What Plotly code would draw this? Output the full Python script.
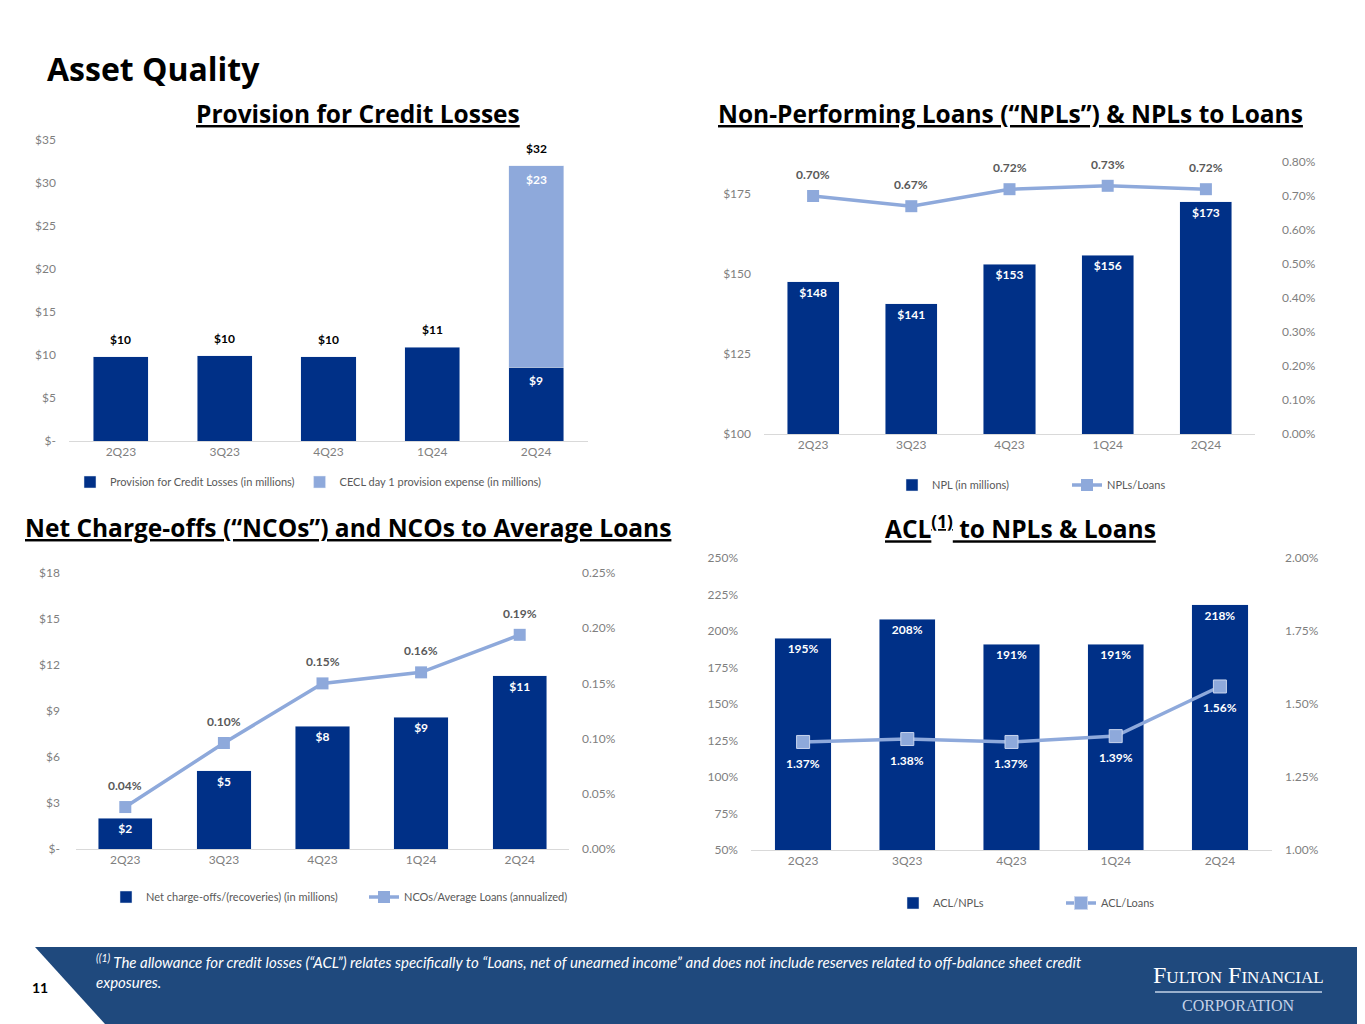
import plotly.graph_objects as go

# the page puts the figure 8px in from the top-left corner
OFF = 8
W, H = 1365 - OFF, 1024 - OFF

NAVY = "#003087"
LIGHT = "#8EA9DB"
FOOTER = "#1F497D"
GRID = "#D9D9D9"
TICK = "#7F7F7F"
LABEL = "#595959"
FONT = "Lato"
TITLE_FONT = "Open Sans"

QUARTERS = ["2Q23", "3Q23", "4Q23", "1Q24", "2Q24"]

# provision for credit losses, $M
provision = [9.8, 9.9, 9.8, 10.9, 8.6]
cecl_day1 = [None, None, None, None, 23.4]
prov_ticks = [0, 5, 10, 15, 20, 25, 30, 35]
prov_ticktext = ["$-", "$5", "$10", "$15", "$20", "$25", "$30", "$35"]

# non-performing loans, $M and NPLs / loans
npl = [147.6, 140.7, 153.1, 155.9, 172.6]
npl_to_loans = [0.0070, 0.0067, 0.0072, 0.0073, 0.0072]
npl_ticks = [100, 125, 150, 175]
npl_ticktext = ["$100", "$125", "$150", "$175"]

# net charge-offs, $M and NCOs / average loans
nco = [2.0, 5.1, 8.0, 8.6, 11.3]
nco_to_avg = [0.00038, 0.00096, 0.00150, 0.00160, 0.00194]
nco_ticks = [0, 3, 6, 9, 12, 15, 18]
nco_ticktext = ["$-", "$3", "$6", "$9", "$12", "$15", "$18"]

# ACL to NPLs and loans
acl_npl = [1.95, 2.08, 1.91, 1.91, 2.18]
acl_loans = [0.0137, 0.0138, 0.0137, 0.0139, 0.0156]


def fx(x):
    return (x - OFF) / W


def fy(y):
    return 1 - (y - OFF) / H


def px(x0, x1):
    return [fx(x0), fx(x1)]


def py(top, bottom):
    return [fy(bottom), fy(top)]


tickfont = dict(family=FONT, size=12, color=TICK)
barfont = dict(family=FONT, size=12, color="white", weight="bold")


def xax(domain, anchor):
    return dict(domain=domain, anchor=anchor, type="category", showline=True,
                linecolor=GRID, linewidth=1, ticks="", showgrid=False,
                tickfont=tickfont, fixedrange=True)


def yax(domain, anchor, rng, **kw):
    d = dict(domain=domain, anchor=anchor, range=rng, showgrid=False,
             zeroline=False, showline=False, ticks="", tickfont=tickfont,
             ticklabelstandoff=12, fixedrange=True)
    d.update(kw)
    return d


fig = go.Figure()

# ---- chart 1: provision
fig.add_trace(go.Bar(
    x=QUARTERS, y=provision, xaxis="x", yaxis="y", width=0.53,
    marker_color=NAVY, name="Provision for Credit Losses (in millions)",
    legend="legend", hoverinfo="skip"))
fig.add_trace(go.Bar(
    x=QUARTERS, y=cecl_day1, xaxis="x", yaxis="y", width=0.53,
    marker_color=LIGHT, name="CECL day 1 provision expense (in millions)",
    legend="legend", hoverinfo="skip"))
for q, p, c in zip(QUARTERS, provision, cecl_day1):
    tot = p + (c or 0)
    fig.add_annotation(x=q, y=tot, xref="x", yref="y", text=f"<b>${tot:.0f}</b>",
                       showarrow=False, yanchor="bottom", yshift=8,
                       font=dict(family=FONT, size=12, color="black"))
    if c:
        # split bar: label each piece inside, near its top
        fig.add_annotation(x=q, y=p, xref="x", yref="y", text=f"<b>${p:.0f}</b>",
                           showarrow=False, yanchor="top", yshift=-4,
                           font=dict(family=FONT, size=12, color="white"))
        fig.add_annotation(x=q, y=tot, xref="x", yref="y",
                           text=f"<b>${c:.0f}</b>", showarrow=False,
                           yanchor="top", yshift=-4,
                           font=dict(family=FONT, size=12, color="white"))

# ---- chart 2: NPLs
fig.add_trace(go.Bar(
    x=QUARTERS, y=npl, xaxis="x2", yaxis="y3", width=0.53, marker_color=NAVY,
    name="NPL (in millions)", text=[f"${v:.0f}" for v in npl],
    textposition="inside", insidetextanchor="end",
    textfont=barfont, legend="legend2", hoverinfo="skip"))
fig.add_trace(go.Scatter(
    x=QUARTERS, y=npl_to_loans, xaxis="x2", yaxis="y4", mode="lines+markers",
    line=dict(color=LIGHT, width=3.5),
    marker=dict(symbol="square", size=12, color=LIGHT),
    name="NPLs/Loans", legend="legend2", hoverinfo="skip"))
for q, v in zip(QUARTERS, npl_to_loans):
    fig.add_annotation(x=q, y=v, xref="x2", yref="y4", text=f"<b>{v:.2%}</b>",
                       showarrow=False, yanchor="bottom", yshift=12,
                       font=dict(family=FONT, size=12, color=LABEL))

# ---- chart 3: NCOs
fig.add_trace(go.Bar(
    x=QUARTERS, y=nco, xaxis="x3", yaxis="y5", width=0.55, marker_color=NAVY,
    name="Net charge-offs/(recoveries) (in millions)",
    text=[f"${v:.0f}" for v in nco], textposition="inside",
    insidetextanchor="end", textfont=barfont,
    legend="legend3", hoverinfo="skip"))
fig.add_trace(go.Scatter(
    x=QUARTERS, y=nco_to_avg, xaxis="x3", yaxis="y6", mode="lines+markers",
    line=dict(color=LIGHT, width=3.5),
    marker=dict(symbol="square", size=12, color=LIGHT),
    name="NCOs/Average Loans (annualized)", legend="legend3",
    hoverinfo="skip"))
for q, v in zip(QUARTERS, nco_to_avg):
    fig.add_annotation(x=q, y=v, xref="x3", yref="y6", text=f"<b>{v:.2%}</b>",
                       showarrow=False, yanchor="bottom", yshift=12,
                       font=dict(family=FONT, size=12, color=LABEL))

# ---- chart 4: ACL
fig.add_trace(go.Bar(
    x=QUARTERS, y=acl_npl, xaxis="x4", yaxis="y7", width=0.54,
    marker_color=NAVY, name="ACL/NPLs", text=[f"{v:.0%}" for v in acl_npl],
    textposition="inside", insidetextanchor="end",
    textfont=barfont, legend="legend4", hoverinfo="skip"))
fig.add_trace(go.Scatter(
    x=QUARTERS, y=acl_loans, xaxis="x4", yaxis="y8", mode="lines+markers",
    line=dict(color=LIGHT, width=3.5),
    marker=dict(symbol="square", size=13, color=LIGHT,
                line=dict(color="#C9D5EE", width=1)),
    name="ACL/Loans", legend="legend4", hoverinfo="skip"))
for q, v in zip(QUARTERS, acl_loans):
    fig.add_annotation(x=q, y=v, xref="x4", yref="y8", text=f"<b>{v:.2%}</b>",
                       showarrow=False, yanchor="top", yshift=-12,
                       font=dict(family=FONT, size=12, color="white"))

legend_common = dict(orientation="h", xanchor="left", yanchor="middle",
                     traceorder="normal", bgcolor="rgba(0,0,0,0)",
                     font=dict(family=FONT, size=11, color=LABEL),
                     itemclick=False, itemdoubleclick=False)

fig.update_layout(
    width=W, height=H,
    margin=dict(l=0, r=0, t=0, b=0, pad=0, autoexpand=False),
    paper_bgcolor="white", plot_bgcolor="white", barmode="stack",
    showlegend=True, font=dict(family=FONT),
    xaxis=xax(px(69, 588), "y"),
    yaxis=yax(py(140, 441), "x", [0, 35], tickvals=prov_ticks,
              ticktext=prov_ticktext),
    xaxis2=xax(px(764, 1255), "y3"),
    yaxis3=yax(py(162, 434), "x2", [100, 185], tickvals=npl_ticks,
               ticktext=npl_ticktext),
    yaxis4=yax(py(162, 434), "x2", [0, 0.008], overlaying="y3", side="right",
               dtick=0.001, tickformat=".2%", ticklabelstandoff=26),
    xaxis3=xax(px(76, 569), "y5"),
    yaxis5=yax(py(573, 849), "x3", [0, 18], tickvals=nco_ticks,
               ticktext=nco_ticktext, ticklabelstandoff=15),
    yaxis6=yax(py(573, 849), "x3", [0, 0.0025], overlaying="y5", side="right",
               dtick=0.0005, tickformat=".2%"),
    xaxis4=xax(px(751, 1272), "y7"),
    yaxis7=yax(py(558, 850), "x4", [0.5, 2.5], dtick=0.25, tickformat=".0%"),
    yaxis8=yax(py(558, 850), "x4", [0.01, 0.02], overlaying="y7",
               side="right", dtick=0.0025, tickformat=".2%"),
    legend=dict(legend_common, x=fx(70), y=fy(482)),
    legend2=dict(legend_common, x=fx(892), y=fy(485), entrywidth=130,
                 entrywidthmode="pixels"),
    legend3=dict(legend_common, x=fx(106), y=fy(897), entrywidth=213,
                 entrywidthmode="pixels"),
    legend4=dict(legend_common, x=fx(893), y=fy(903), entrywidth=123,
                 entrywidthmode="pixels"),
)

# ---- titles
fig.add_annotation(x=fx(45), y=fy(68), xref="paper", yref="paper",
                   text="<b>Asset Quality</b>", showarrow=False,
                   xanchor="left", yanchor="middle",
                   font=dict(family=TITLE_FONT, size=32, color="black"))

titles = [
    ("Provision for Credit Losses", 358, 113),
    ("Non-Performing Loans (“NPLs”) &amp; NPLs to Loans", 1011, 113),
    ("Net Charge-offs (“NCOs”) and NCOs to Average Loans", 348, 527),
    ("ACL<sup>(1)</sup> to NPLs &amp; Loans", 1021, 527),
]
for t, cx, cy in titles:
    fig.add_annotation(x=fx(cx), y=fy(cy), xref="paper", yref="paper",
                       text=f"<b><u>{t}</u></b>", showarrow=False,
                       xanchor="center", yanchor="middle",
                       font=dict(family=TITLE_FONT, size=24.5, color="black"))

# ---- footer
ft = fy(947)
fig.add_shape(type="path", xref="paper", yref="paper",
              path=f"M {fx(35)},{ft} L 1,{ft} L 1,0 L {fx(105)},0 Z",
              fillcolor=FOOTER, line=dict(width=0), layer="below")
fig.add_annotation(
    x=fx(94), y=fy(950), xref="paper", yref="paper", showarrow=False,
    xanchor="left", yanchor="top", align="left",
    text=("<i><sup>((1)</sup> The allowance for credit losses (“ACL”) relates "
          "specifically to “Loans, net of unearned income” and does not include "
          "reserves related to off-balance sheet credit<br>exposures.</i>"),
    font=dict(family=FONT, size=15, color="white"))
fig.add_annotation(x=fx(30), y=fy(987), xref="paper", yref="paper",
                   text="<b>11</b>", showarrow=False, xanchor="left",
                   yanchor="middle",
                   font=dict(family=FONT, size=14, color="black"))
fig.add_annotation(
    x=fx(1238), y=fy(975), xref="paper", yref="paper", showarrow=False,
    xanchor="center", yanchor="middle",
    text=("F<span style='font-size:17px'>ULTON</span> "
          "F<span style='font-size:17px'>INANCIAL</span>"),
    font=dict(family="Liberation Serif", size=24, color="white"))
fig.add_shape(type="line", xref="paper", yref="paper",
              x0=fx(1155), x1=fx(1322), y0=fy(992), y1=fy(992),
              line=dict(color="#C5D3E8", width=1.5))
fig.add_annotation(x=fx(1238), y=fy(1005), xref="paper", yref="paper",
                   text="CORPORATION", showarrow=False, xanchor="center",
                   yanchor="middle",
                   font=dict(family="Liberation Serif", size=16,
                             color="#C5D3E8"))

fig.write_html("out.html", config={"displayModeBar": False})
